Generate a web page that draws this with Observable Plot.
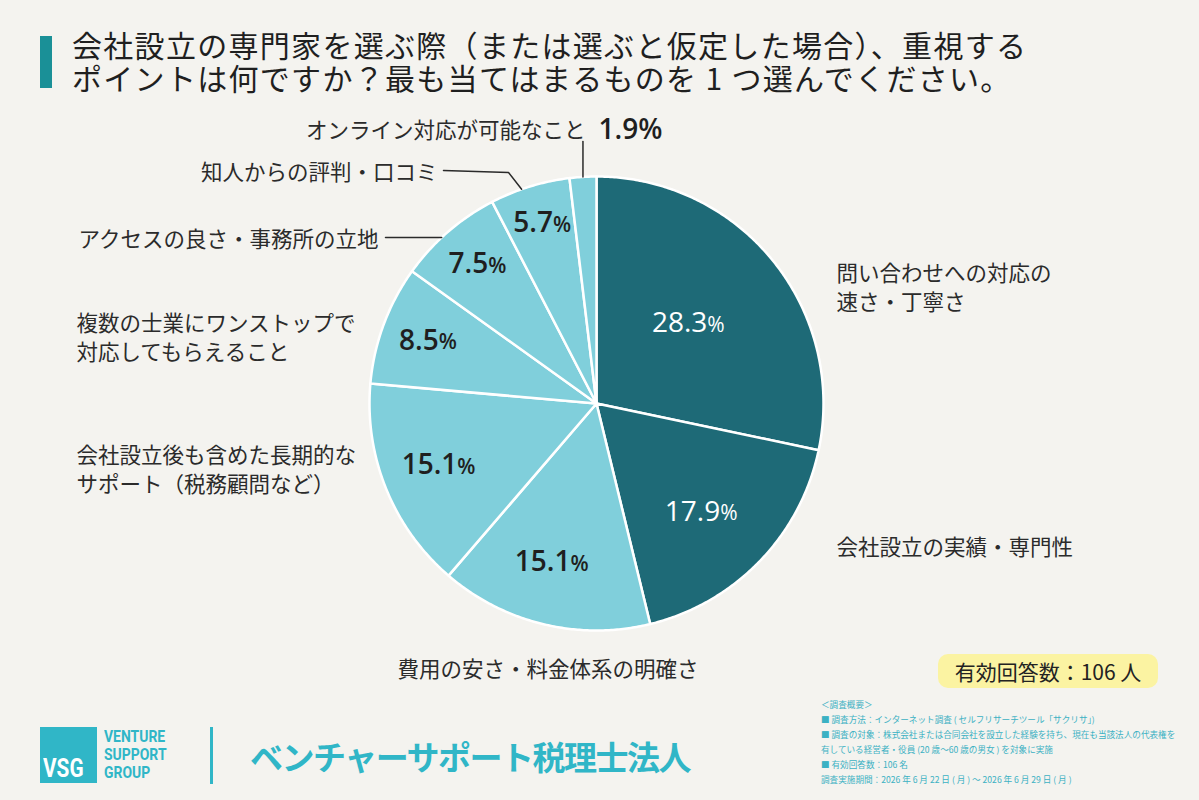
<!DOCTYPE html>
<html lang="ja">
<head>
<meta charset="utf-8">
<script src="https://cdn.jsdelivr.net/npm/d3@7"></script>
<script src="https://cdn.jsdelivr.net/npm/@observablehq/plot@0.6"></script>
<style>
  html, body { margin: 0; padding: 0; background: #f4f3ef; }
  #page { position: relative; width: 1199px; height: 800px; overflow: hidden; background: #f4f3ef;
          font-family: "Noto Sans CJK JP", "Noto Sans", sans-serif; color: #222; }
  #bar { position: absolute; left: 40px; top: 36px; width: 12px; height: 52px; background: #1a9097; }
  .tl { position: absolute; left: 72px; font-size: 30px; line-height: 32px; font-weight: 400; color: #1f1f1f;
        white-space: nowrap; letter-spacing: 1.3px; }
  #t1 { top: 28px; }
  #t2 { top: 61px; }
  #chart { position: absolute; left: 0; top: 100px; }
  #badge { position: absolute; left: 938px; top: 654px; width: 220px; height: 34px; border-radius: 10px; background: #fbf3a2;
           font-size: 21px; line-height: 34px; text-align: center; color: #222; }
  #notes { position: absolute; left: 821px; top: 697px; font-size: 8.6px; line-height: 15px; color: #3bb1c3; white-space: nowrap; }
  #logo { position: absolute; left: 40px; top: 727px; width: 57px; height: 56px; background: #30b6c7; }
  #vsg { position: absolute; left: 43px; top: 755px; color: #fff; font-family: Roboto, "DejaVu Sans", sans-serif;
         font-weight: 700; font-size: 26px; line-height: 26px; transform: scaleX(0.8); transform-origin: left center; white-space: nowrap; }
  .lt { position: absolute; left: 104px; color: #30b6c7; font-family: Roboto, "DejaVu Sans", sans-serif;
        font-weight: 700; font-size: 17px; line-height: 17px; transform: scaleX(0.82); transform-origin: left center; white-space: nowrap; }
  #lt1 { top: 728px; } #lt2 { top: 746px; } #lt3 { top: 764px; }
  #vline { position: absolute; left: 210px; top: 727px; width: 3px; height: 57px; background: #30b6c7; }
  #firm { position: absolute; left: 250px; top: 735px; color: #30b6c7; font-weight: 700; font-size: 33px; line-height: 42px; white-space: nowrap; letter-spacing: -1.5px; }
</style>
</head>
<body>
<div id="page">
  <div id="bar"></div>
  <div class="tl" id="t1">会社設立の専門家を選ぶ際（または選ぶと仮定した場合）、重視する</div>
  <div class="tl" id="t2">ポイントは何ですか？最も当てはまるものを 1 つ選んでください。</div>
  <div id="chart"></div>
  <div id="badge">有効回答数：106 人</div>
  <div id="notes">
    <div>＜調査概要＞</div>
    <div>■ 調査方法：インターネット調査 ( セルフリサーチツール「サクリサ」)</div>
    <div>■ 調査の対象：株式会社または合同会社を設立した経験を持ち、現在も当該法人の代表権を</div>
    <div>有している経営者・役員 (20 歳〜60 歳の男女 ) を対象に実施</div>
    <div>■ 有効回答数：106 名</div>
    <div>調査実施期間：2026 年 6 月 22 日 ( 月 ) 〜 2026 年 6 月 29 日 ( 月 )</div>
  </div>
  <div id="logo"></div>
  <div id="vsg">VSG</div>
  <div class="lt" id="lt1">VENTURE</div>
  <div class="lt" id="lt2">SUPPORT</div>
  <div class="lt" id="lt3">GROUP</div>
  <div id="vline"></div>
  <div id="firm">ベンチャーサポート税理士法人</div>
</div>
<script>
// ---- data ----
const categories = [
  "問い合わせへの対応の\n速さ・丁寧さ",
  "会社設立の実績・専門性",
  "費用の安さ・料金体系の明確さ",
  "会社設立後も含めた長期的な\nサポート（税務顧問など）",
  "複数の士業にワンストップで\n対応してもらえること",
  "アクセスの良さ・事務所の立地",
  "知人からの評判・口コミ",
  "オンライン対応が可能なこと"
];
const shares = [28.3, 17.9, 15.1, 15.1, 8.5, 7.5, 5.7, 1.9];

// ---- styles / layout ----
const palette = ["#1e6a77", "#1e6a77", "#80cfdb", "#80cfdb", "#80cfdb", "#80cfdb", "#80cfdb", "#80cfdb"];
const onDark = [true, true, false, false, false, false, false, false];
const W = 1199, H = 600, CX = 596, CY = 303, R = 227;
const labelLayout = [
  {x: 836, y: 186, anchor: "start"},
  {x: 836, y: 445, anchor: "start"},
  {x: 397, y: 567, anchor: "start"},
  {x: 76,  y: 368, anchor: "start"},
  {x: 76,  y: 236, anchor: "start"},
  {x: 378, y: 137, anchor: "end", leader: "horizontal", lx: 385},
  {x: 437, y: 70,  anchor: "end", leader: "elbow", lx: 443, ex: 508, ey: 72},
  {x: 585, y: 28,  anchor: "end", leader: "vertical", ly: 41}
];

// ---- geometry from data ----
let acc = 0;
const slices = shares.map((v, i) => {
  const a0 = acc / 100; acc += v; const a1 = acc / 100;
  return {i, v, a0, a1, mid: (a0 + a1) / 2};
});
const polar = (t, r) => [CX + r * Math.sin(2 * Math.PI * t), CY - r * Math.cos(2 * Math.PI * t)];

const wedgePts = [];
for (const s of slices) {
  wedgePts.push({i: s.i, x: CX, y: CY, fill: palette[s.i]});
  const n = Math.max(2, Math.ceil((s.a1 - s.a0) * 720));
  for (let k = 0; k <= n; k++) {
    const [x, y] = polar(s.a0 + (s.a1 - s.a0) * k / n, R);
    wedgePts.push({i: s.i, x, y, fill: palette[s.i]});
  }
}

const inside = slices.filter(s => s.v >= 3).map(s => {
  const [x, y] = polar(s.mid, R * (0.9 - 0.012 * s.v));
  return {x, y, num: s.v.toFixed(1), dark: onDark[s.i]};
});
const outside = slices.filter(s => s.v < 3).map(s => {
  const L = labelLayout[s.i];
  return {x: L.x + 13, y: L.y + 2, text: s.v.toFixed(1) + "%"};
});

const labels = slices.map(s => ({...labelLayout[s.i], text: categories[s.i]}));

const leaderPts = [];
slices.forEach(s => {
  const L = labelLayout[s.i];
  if (!L.leader) return;
  if (L.leader === "horizontal") {
    const ex = CX - Math.sqrt(R * R - (L.y - CY) ** 2);
    leaderPts.push({i: s.i, x: L.lx, y: L.y}, {i: s.i, x: ex, y: L.y});
  } else if (L.leader === "elbow") {
    const [px, py] = polar(s.mid - 0.006, R);
    leaderPts.push({i: s.i, x: L.lx, y: L.y}, {i: s.i, x: L.ex, y: L.ey}, {i: s.i, x: px, y: py});
  } else {
    const [px, py] = polar(s.mid, R);
    leaderPts.push({i: s.i, x: px, y: L.ly}, {i: s.i, x: px, y: py});
  }
});

const numFont = "'Open Sans', 'Noto Sans', sans-serif";
const jpFont = "'Noto Sans CJK JP', 'Noto Sans', sans-serif";

const pctMarks = [];
for (const dark of [true, false]) {
  const d = inside.filter(p => p.dark === dark);
  const fill = dark ? "#ffffff" : "#1f1f1f";
  const fw = dark ? 400 : 600;
  pctMarks.push(
    Plot.text(d, {x: "x", y: "y", text: "num", fill, textAnchor: "end", dx: 12,
      fontSize: 28, fontWeight: fw, fontFamily: numFont, ariaLabel: "pct"}),
    Plot.text(d, {x: "x", y: "y", text: () => "%", fill, textAnchor: "start", dx: 12, dy: 2,
      fontSize: 21, fontWeight: fw, fontFamily: numFont, ariaLabel: "pct"})
  );
}

const chart = Plot.plot({
  width: W, height: H,
  margin: 0,
  style: {background: "transparent", overflow: "visible"},
  x: {domain: [0, W], range: [0, W], axis: null},
  y: {domain: [0, H], range: [0, H], axis: null},
  color: {type: "identity"},
  marks: [
    Plot.line(wedgePts, {x: "x", y: "y", z: "i", fill: "fill", stroke: "#ffffff", strokeWidth: 2.5,
      strokeLinejoin: "round", curve: "linear-closed"}),
    Plot.line(leaderPts, {x: "x", y: "y", z: "i", stroke: "#2a2a2a", strokeWidth: 1.5}),
    ...pctMarks,
    Plot.text(outside, {x: "x", y: "y", text: "text", fill: "#1f1f1f", textAnchor: "start",
      fontSize: 28, fontWeight: 600, fontFamily: numFont, ariaLabel: "pct"}),
    Plot.text(labels.filter(d => d.anchor === "start"), {x: "x", y: "y", text: "text", textAnchor: "start",
      fill: "#2b2b2b", fontSize: 21.5, lineHeight: 1.33, fontFamily: jpFont}),
    Plot.text(labels.filter(d => d.anchor === "end"), {x: "x", y: "y", text: "text", textAnchor: "end",
      fill: "#2b2b2b", fontSize: 21.5, lineHeight: 1.33, fontFamily: jpFont})
  ]
});
// condense the percentage figures horizontally, as in the reference typeface
d3.select(chart).selectAll("g[aria-label='pct'] text").each(function () {
  const t = this.getAttribute("transform") || "";
  this.setAttribute("transform", t + " scale(0.74,1)");
});
document.getElementById("chart").appendChild(chart);
</script>
</body>
</html>
